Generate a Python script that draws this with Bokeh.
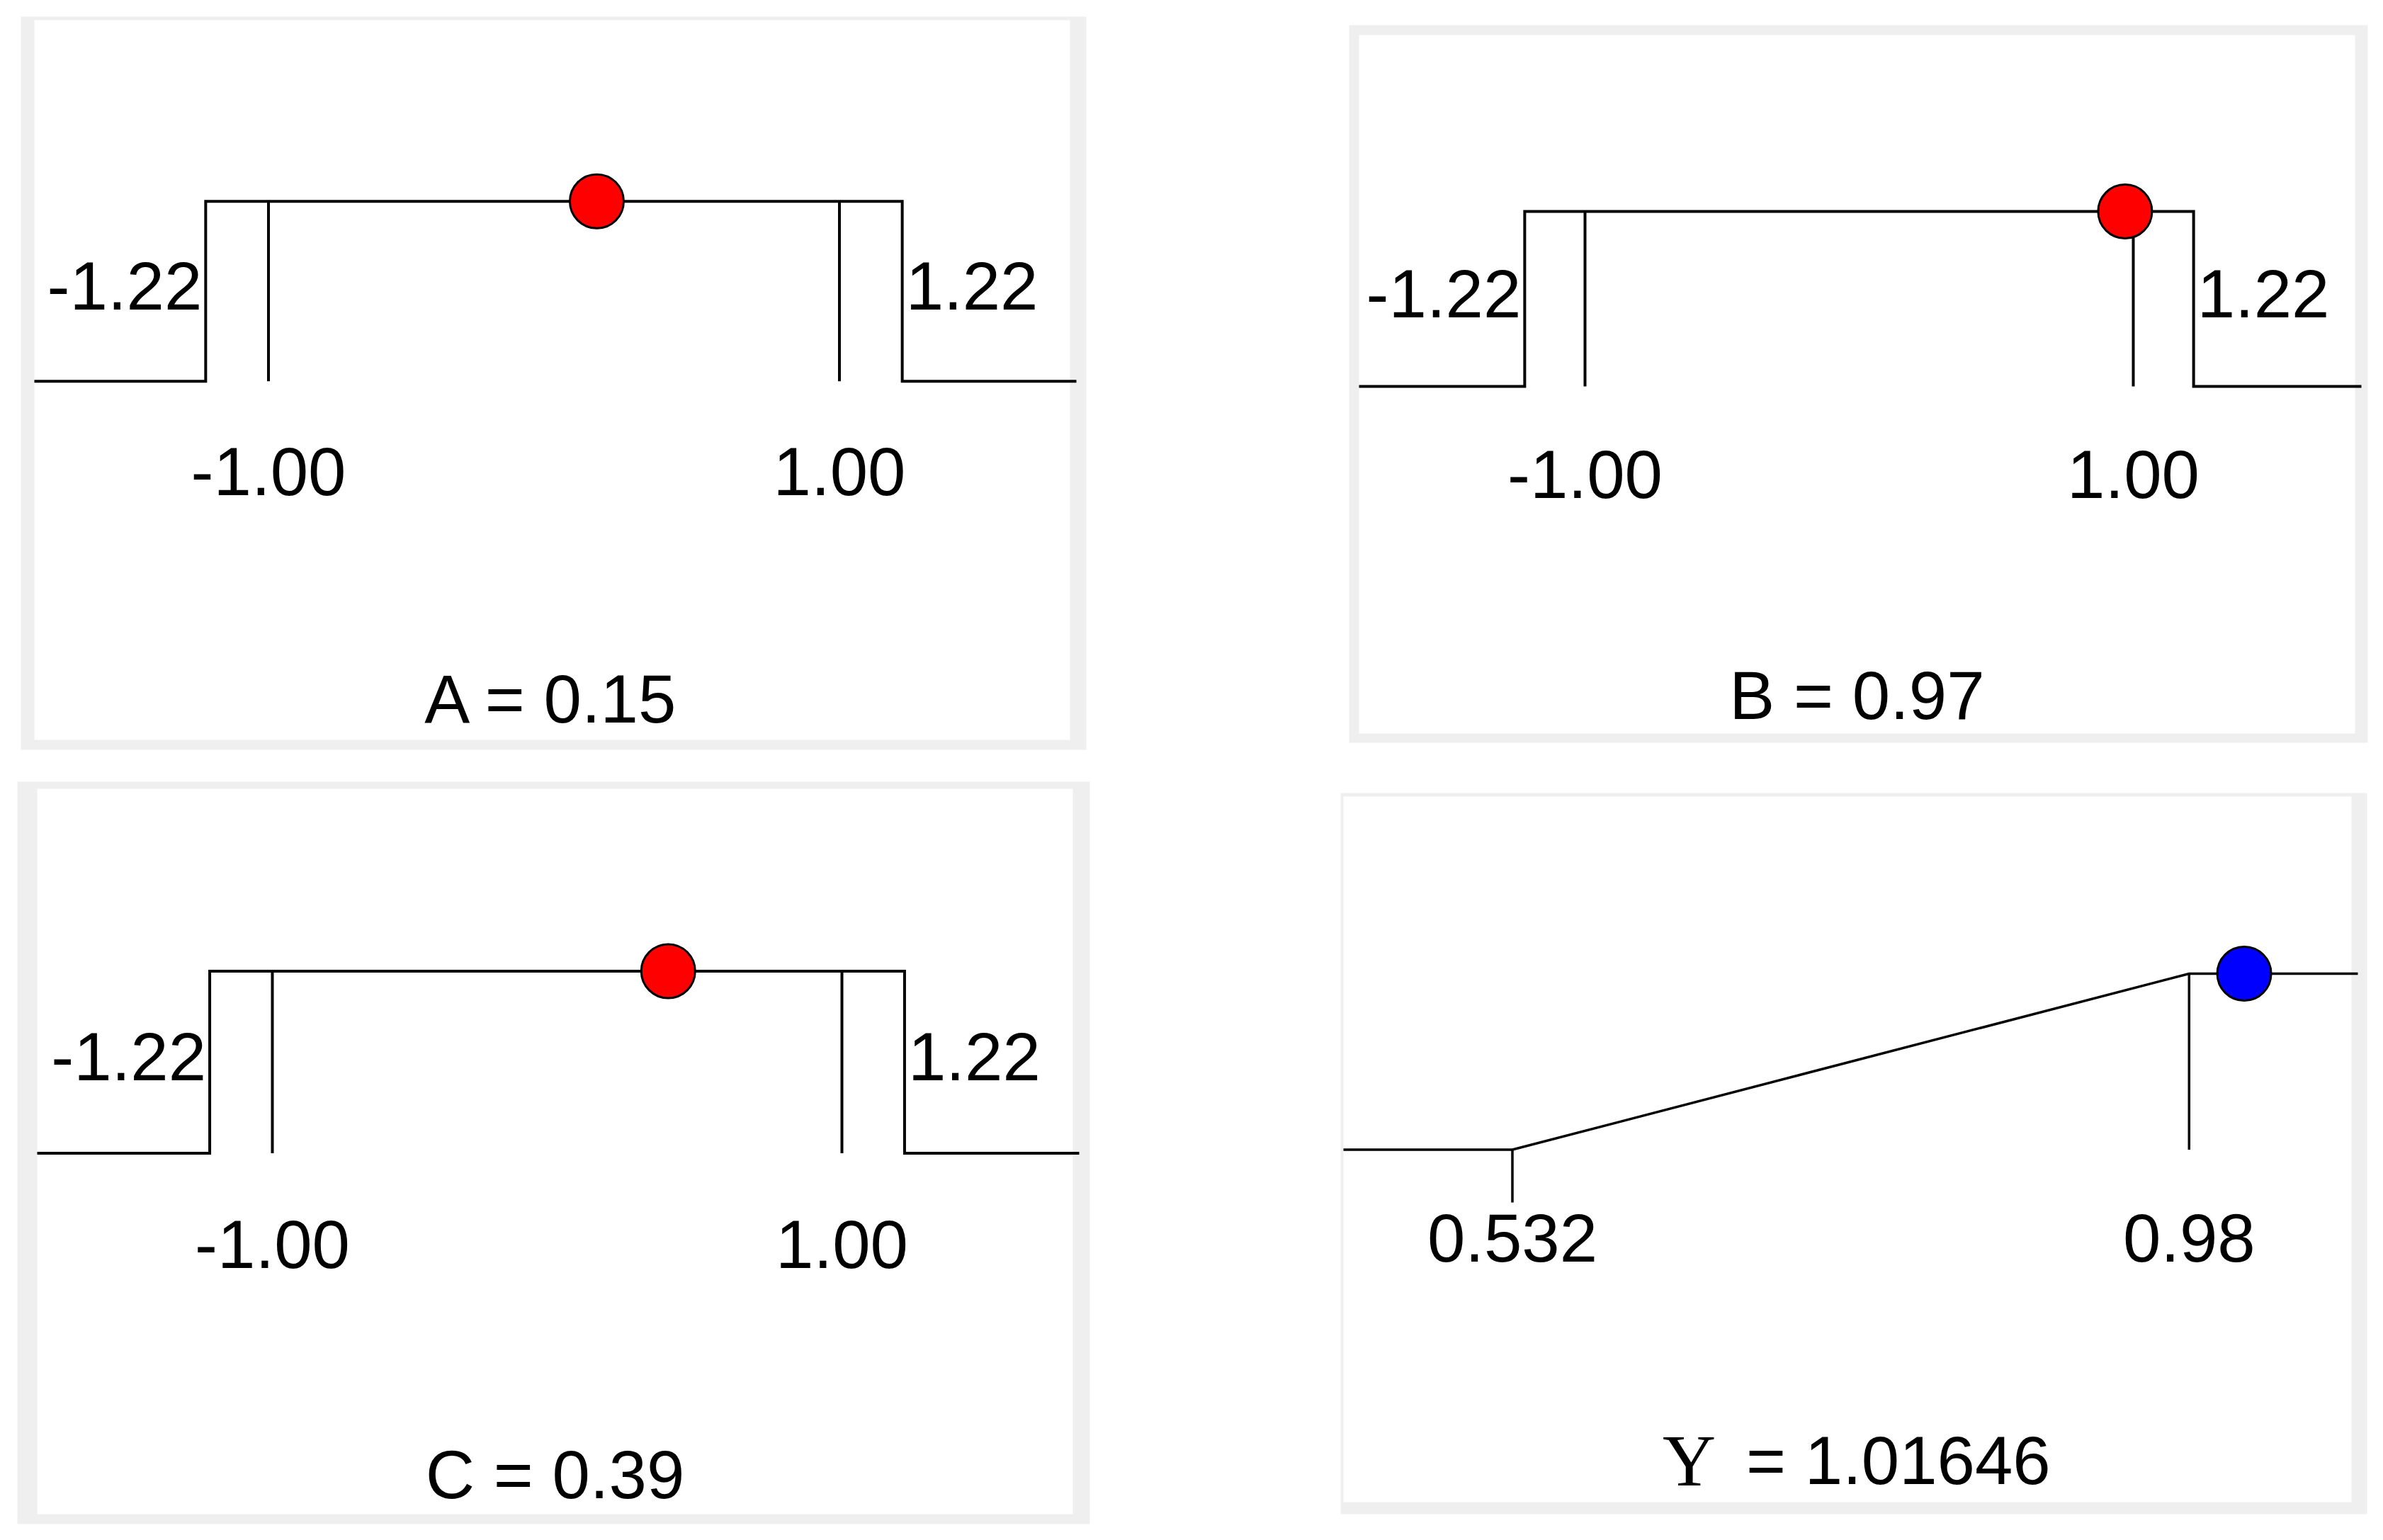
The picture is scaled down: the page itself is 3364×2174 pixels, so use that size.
from bokeh.plotting import figure
from bokeh.models import Range1d
from bokeh.core.properties import value
from bokeh.embed import file_html
from bokeh.resources import INLINE

# ---------------- data ----------------
factor_names = ["A", "B", "C"]
factor_values = [0.15, 0.97, 0.39]
axial_points = [-1.22, 1.22]
axial_labels = ["-1.22", "1.22"]
coded_points = [-1.00, 1.00]
coded_labels = ["-1.00", "1.00"]
level_off = 0.0
level_on = 1.0

response_name = "Y"
response_value = 1.01646
response_points = [0.532, 0.98]
response_labels = ["0.532", "0.98"]

# ---------------- layout / style (screen pixels) ----------------
OFF = 0
W, H = 3348, 2158
GRAY = "#efefef"
SANS = "Liberation Sans"
SERIF = "Liberation Serif"
FS = "96px"
SIDE_Y = 0.53
TICK_Y = -0.50
TITLE_Y = -1.765
OVERRUN = 9  # the curve runs a few pixels into the right-hand border

# outer frame, inner frame (x0, y0, x1, y1) and calibration of each panel's scales
geom = {
    "A": dict(outer=(29, 23, 1533, 1058), inner=(48, 28, 1510, 1044),
              xcal=(-1.0, 378.5, 1.0, 1184.5), ycal=(537.7, 283.7)),
    "B": dict(outer=(1904, 35, 3342, 1048), inner=(1918, 49, 3324, 1035),
              xcal=(-1.0, 2237.0, 1.0, 3011.0), ycal=(545.0, 298.0)),
    "C": dict(outer=(24, 1103, 1538, 2151), inner=(52, 1113, 1514, 2137),
              xcal=(-1.0, 384.0, 1.0, 1188.0), ycal=(1627.4, 1370.5)),
    "Y": dict(outer=(1892, 1119, 3341, 2137), inner=(1896, 1124, 3319, 2120),
              xcal=(0.532, 2134.5, 0.98, 3089.8), ycal=(1622.5, 1374.0)),
}

p = figure(width=W, height=H, x_range=Range1d(OFF, OFF + W), y_range=Range1d(OFF + H, OFF),
           output_backend="svg", toolbar_location=None,
           x_axis_location=None, y_axis_location=None, min_border=0,
           background_fill_color="white", border_fill_color="white",
           outline_line_color=None)
p.grid.visible = False


def xval(g, s):
    v0, s0, v1, s1 = g["xcal"]
    return v0 + (s - s0) * (v1 - v0) / (s1 - s0)


def yval(g, s):
    s0, s1 = g["ycal"]
    return (s - s0) / (s1 - s0)


for key, g in geom.items():
    p.extra_x_ranges[key] = Range1d(xval(g, OFF), xval(g, OFF + W))
    p.extra_y_ranges[key] = Range1d(yval(g, OFF + H), yval(g, OFF))
    ox0, oy0, ox1, oy1 = g["outer"]
    ix0, iy0, ix1, iy1 = g["inner"]
    p.quad(left=[ox0], right=[ox1], top=[oy0], bottom=[oy1], fill_color=GRAY, line_color=None)
    p.quad(left=[ix0], right=[ix1], top=[iy0], bottom=[iy1], fill_color="white", line_color=None)


def txt(key, x, y, s, align, font=SANS, size=FS, x_offset=0):
    p.text(x=[x], y=[y], text=[s], text_align=align, text_baseline="middle",
           text_font=value(font), text_font_size=size, text_color="black",
           x_offset=x_offset, x_range_name=key, y_range_name=key)


def edges(g):
    ix0, _, ix1, _ = g["inner"]
    return xval(g, ix0), xval(g, ix1 + OVERRUN), xval(g, ix1)


for name, val in zip(factor_names, factor_values):
    g = geom[name]
    x0, x1, xin = edges(g)
    xs = [x0, axial_points[0], axial_points[0], axial_points[1], axial_points[1], x1]
    ys = [level_off, level_off, level_on, level_on, level_off, level_off]
    p.line(xs, ys, line_color="black", line_width=4, line_join="miter",
           x_range_name=name, y_range_name=name)
    p.segment(x0=coded_points, y0=[level_off] * 2, x1=coded_points, y1=[level_on] * 2,
              line_color="black", line_width=4, x_range_name=name, y_range_name=name)
    txt(name, axial_points[0], SIDE_Y, axial_labels[0], "right", x_offset=-5)
    txt(name, axial_points[1], SIDE_Y, axial_labels[1], "left", x_offset=5)
    txt(name, coded_points[0], TICK_Y, coded_labels[0], "center")
    txt(name, coded_points[1], TICK_Y, coded_labels[1], "center")
    txt(name, (x0 + xin) / 2, TITLE_Y, f"{name} = {val:.2f}", "center")
    p.scatter([val], [level_on], size=76, fill_color="#ff0000",
              line_color="black", line_width=3, x_range_name=name, y_range_name=name)

# response panel
g = geom[response_name]
x0, x1, xin = edges(g)
rn = response_name
p.line([x0, response_points[0], response_points[1], x1],
       [level_off, level_off, level_on, level_on],
       line_color="black", line_width=3.5, line_join="miter", x_range_name=rn, y_range_name=rn)
p.segment(x0=response_points, y0=[level_off, level_on], x1=response_points, y1=[-0.30, level_off],
          line_color="black", line_width=3.5, x_range_name=rn, y_range_name=rn)
txt(rn, response_points[0], TICK_Y, response_labels[0], "center")
txt(rn, response_points[1], TICK_Y, response_labels[1], "center")
cx = (x0 + xin) / 2
txt(rn, cx, TITLE_Y, response_name, "right", font=SERIF, size="104px", x_offset=-186)
txt(rn, cx, TITLE_Y, f"= {response_value:.5f}", "left", x_offset=-143)
p.scatter([response_value], [level_on], size=76, fill_color="#0000ff",
          line_color="black", line_width=3, x_range_name=rn, y_range_name=rn)

open("out.html", "w").write(file_html(p, INLINE))
